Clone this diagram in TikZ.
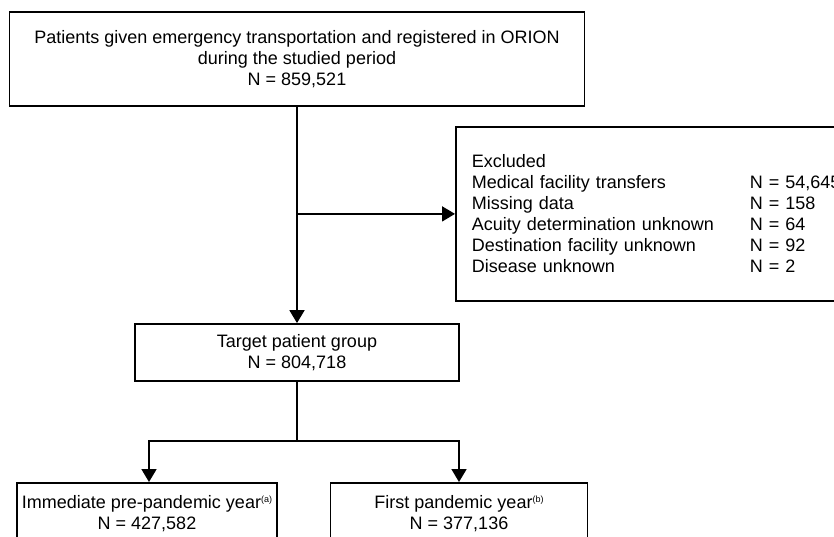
\documentclass[tikz,border=0pt]{standalone}
\usepackage{fontspec}
\setmainfont{Liberation Sans}
\usetikzlibrary{arrows.meta}
\tikzset{
  box/.style={draw, line width=1.8pt, inner sep=0pt, align=center,
    font=\fontsize{18}{21}\selectfont},
  flow/.style={line width=1.8pt, -{Triangle[length=13pt,width=15pt]}},
}
\newcommand{\notemark}[1]{\raisebox{6pt}{\fontsize{9}{9}\selectfont(#1)}}

\begin{document}
\begin{tikzpicture}[x=1pt, y=-1pt]
	% page frame
	\useasboundingbox (0,0) rectangle (834,536);
	\clip (0,0) rectangle (834,536);
	% all transported patients
	\node[box, minimum width=575pt, minimum height=94pt] (all) at (297,59)
		{Patients given emergency transportation and registered in ORION\\during the studied period\\N = 859,521};
	% excluded cases
	\node[box, anchor=north west, align=left, text width=388pt, inner xsep=16pt,
		minimum height=174pt] (excl) at (455,126)
		{Excluded\\
		\makebox[278pt][l]{Medical facility transfers}N = 54,645\\
		\makebox[278pt][l]{Missing data}N = 158\\
		\makebox[278pt][l]{Acuity determination unknown}N = 64\\
		\makebox[278pt][l]{Destination facility unknown}N = 92\\
		\makebox[278pt][l]{Disease unknown}N = 2};
	% target group
	\node[box, minimum width=324pt, minimum height=57pt] (target) at (297,352.5)
		{Target patient group\\N = 804,718};
	% the two years
	\node[box, minimum width=260pt, minimum height=61pt, anchor=north] (pre) at (147,482)
		{Immediate pre-pandemic year\notemark{a}\\N = 427,582};
	\node[box, minimum width=257pt, minimum height=61pt, anchor=north] (first) at (459,482)
		{First pandemic year\notemark{b}\\N = 377,136};
	% connectors
	\draw[flow] (all.south) -- (target.north);
	\draw[flow] (all.south |- excl.west) -- (excl.west);
	\coordinate (split) at (297,441);
	\draw[line width=1.8pt] (target.south) -- (split);
	\draw[flow] (split) -| ([xshift=2pt]pre.north);
	\draw[flow] (split) -| (first.north);
\end{tikzpicture}
\end{document}
